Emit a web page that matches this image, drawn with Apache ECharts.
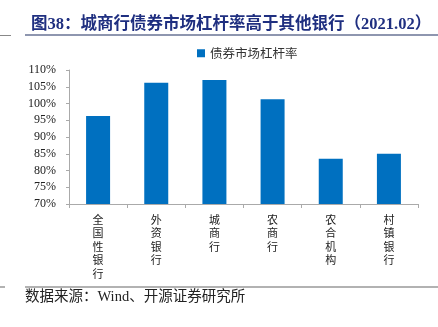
<!DOCTYPE html>
<html><head><meta charset="utf-8">
<script src="https://cdn.jsdelivr.net/npm/echarts@6/dist/echarts.min.js"></script>
<style>html,body{margin:0;padding:0;background:#fff}#c{width:438px;height:327px}</style>
</head><body><div id="c"></div>
<script>
const categories = ['全国性银行','外资银行','城商行','农商行','农合机构','村镇银行'];
const seriesName = '债券市场杠杆率';
const values = [96.3, 106.2, 107.0, 101.3, 83.5, 85.0];
const yTicks = {min:70, max:110, interval:5};
const titleText = '图38：城商行债券市场杠杆率高于其他银行（2021.02）';
const sourceText = '数据来源：Wind、开源证券研究所';

const chart = echarts.init(document.getElementById('c'), null, {renderer:'canvas'});
const cjk = '"Noto Sans CJK SC", sans-serif';
const serif = '"Liberation Serif", "Times New Roman", serif';
chart.setOption({
  animation:false,
  backgroundColor:'#fff',
  title:{text:titleText, left:26, top:11, textStyle:{fontSize:16.5, fontWeight:'bold', color:'#1F2F80', fontFamily:'"Liberation Serif", "Noto Sans CJK SC", serif'}},
  graphic:[
    {type:'line', shape:{x1:25,y1:35,x2:438,y2:35}, style:{stroke:'#1F2F60', lineWidth:1.2}},
    {type:'line', shape:{x1:0,y1:35.5,x2:11,y2:35.5}, style:{stroke:'#888', lineWidth:1}},
    {type:'line', shape:{x1:25,y1:287,x2:438,y2:287}, style:{stroke:'#999', lineWidth:1.5}},
    {type:'line', shape:{x1:0,y1:287,x2:5,y2:287}, style:{stroke:'#999', lineWidth:1.5}},
    {type:'text', left:25, top:290, style:{text:sourceText, fill:'#222', font:'14.5px "Liberation Serif", "Noto Sans CJK SC", serif'}}
  ],
  legend:{data:[seriesName], left:192, top:42, itemWidth:8, itemHeight:8, itemGap:4, icon:'rect',
    textStyle:{fontSize:12.5, color:'#333', fontFamily:cjk}},
  grid:{left:69, right:20, top:70, bottom:123, containLabel:false},
  xAxis:{type:'category', data:categories, boundaryGap:true,
    axisLine:{lineStyle:{color:'#aaa', width:1}},
    axisTick:{show:true, alignWithLabel:false, length:4, lineStyle:{color:'#aaa'}},
    axisLabel:{interval:0, margin:9, fontSize:11, lineHeight:13.5, color:'#222', fontFamily:cjk,
      formatter:v=>v.split('').join('\n'), verticalAlign:'top'}},
  yAxis:{type:'value', min:yTicks.min, max:yTicks.max, interval:yTicks.interval,
    axisLine:{show:true, lineStyle:{color:'#aaa'}},
    axisTick:{show:true, length:3, lineStyle:{color:'#aaa'}},
    splitLine:{show:false},
    axisLabel:{formatter:'{value}%', fontSize:12, color:'#222', fontFamily:serif, margin:13}},
  series:[{name:seriesName, type:'bar', data:values, barWidth:24, itemStyle:{color:'#0070C0'}}]
});
</script></body></html>
